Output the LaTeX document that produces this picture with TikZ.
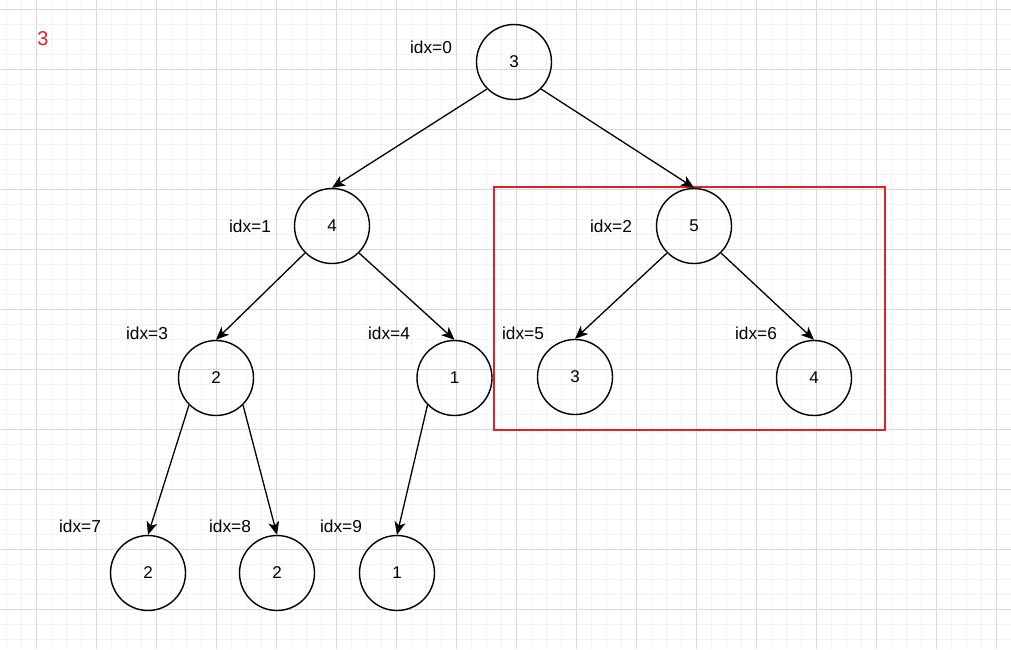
\documentclass[tikz,border=0pt]{standalone}
\usepackage{fontspec}
\setmainfont{Liberation Sans}
\usetikzlibrary{arrows.meta}
\begin{document}
\begin{tikzpicture}[x=1pt,y=-1pt,
  treenode/.style={circle,draw=black,line width=1.4pt,minimum size=75pt,inner sep=0pt,font=\fontsize{17}{20}\selectfont},
  idxlabel/.style={font=\fontsize{17.3}{20}\selectfont,inner sep=0pt},
  edge/.style={line width=1.3pt,-{Stealth[length=13pt,width=11pt,inset=3.5pt]}},
  minorgrid/.style={draw={rgb,255:red,243;green,243;blue,243},line width=0.8pt},
  majorgrid/.style={draw={rgb,255:red,218;green,218;blue,218},line width=0.9pt}]
\useasboundingbox (0,0) rectangle (1011,649);
\fill[white] (0,0) rectangle (1011,649);
% grid
\foreach \i in {0,...,67} {
  \pgfmathsetmacro{\xx}{6+15*\i}
  \draw[minorgrid] (\xx,0) -- (\xx,649);
}
\foreach \j in {0,...,43} {
  \pgfmathsetmacro{\yy}{9+15*\j}
  \draw[minorgrid] (0,\yy) -- (1011,\yy);
}
\foreach \i in {0,...,16} {
  \pgfmathsetmacro{\xx}{36+60*\i}
  \draw[majorgrid] (\xx,0) -- (\xx,649);
}
\foreach \j in {0,...,10} {
  \pgfmathsetmacro{\yy}{9+60*\j}
  \draw[majorgrid] (0,\yy) -- (1011,\yy);
}
% red label
\node[text={rgb,255:red,230;green,30;blue,40},font=\fontsize{20}{24}\selectfont,inner sep=0pt] (r3) at (43,39) {3};
% red box
\node[draw={rgb,255:red,230;green,30;blue,40},line width=1.6pt,minimum width=391pt,minimum height=243pt,inner sep=0pt] (box) at (689.5,308.5) {};
% tree nodes
\node[treenode] (n0) at (514,62) {3};
\node[treenode] (n1) at (332,226) {4};
\node[treenode] (n2) at (694,226) {5};
\node[treenode] (n3) at (216,378) {2};
\node[treenode] (n4) at (454.5,378) {1};
\node[treenode] (n5) at (575,377) {3};
\node[treenode] (n6) at (814,378) {4};
\node[treenode] (n7) at (148,573) {2};
\node[treenode] (n8) at (277,573) {2};
\node[treenode] (n9) at (397,573) {1};
% idx labels
\node[idxlabel] (l0) at (431,47) {idx=0};
\node[idxlabel] (l1) at (250,226) {idx=1};
\node[idxlabel] (l2) at (611,226) {idx=2};
\node[idxlabel] (l3) at (147,333) {idx=3};
\node[idxlabel] (l4) at (389,333) {idx=4};
\node[idxlabel] (l5) at (523,333) {idx=5};
\node[idxlabel] (l6) at (756,333) {idx=6};
\node[idxlabel] (l7) at (80,526) {idx=7};
\node[idxlabel] (l8) at (230,526) {idx=8};
\node[idxlabel] (l9) at (341,526) {idx=9};
% edges
\draw[edge] (n0.south west) -- (n1.north);
\draw[edge] (n0.south east) -- (n2.north);
\draw[edge] (n1.south west) -- (n3.north);
\draw[edge] (n1.south east) -- (n4.north);
\draw[edge] (n2.south west) -- (n5.north);
\draw[edge] (n2.south east) -- (n6.north);
\draw[edge] (n3.south west) -- (n7.north);
\draw[edge] (n3.south east) -- (n8.north);
\draw[edge] (n4.south west) -- (n9.north);
\end{tikzpicture}
\end{document}
